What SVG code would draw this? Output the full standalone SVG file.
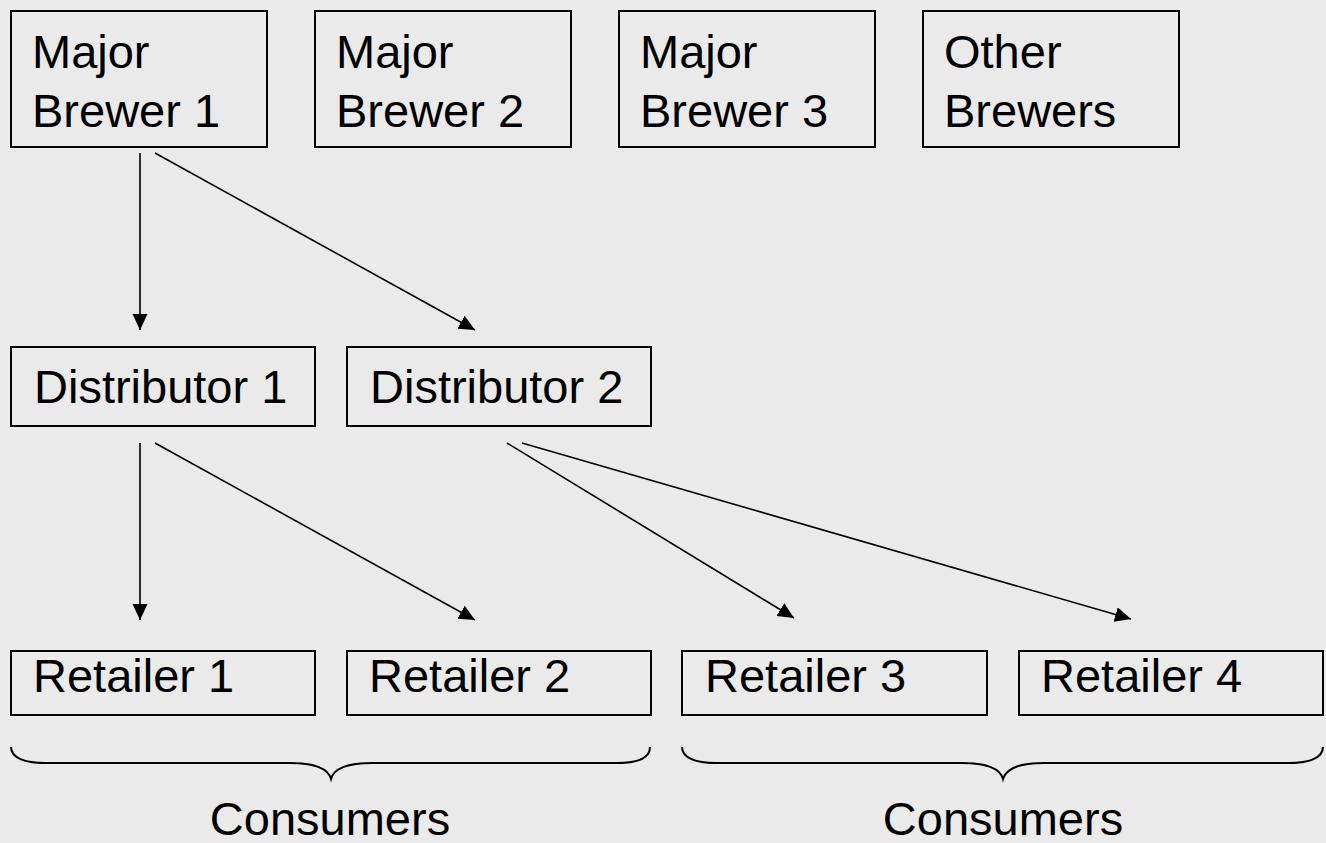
<svg xmlns="http://www.w3.org/2000/svg" width="1326" height="843" viewBox="0 0 1326 843">
<style>
.box{fill:none;stroke:#000;stroke-width:2}
.t{font-family:"Liberation Sans",Arial,sans-serif;font-size:47px;fill:#000}
.c{stroke:#000;stroke-width:1.6;fill:none}
.br{stroke:#000;stroke-width:2;fill:none}
</style>
<defs>
<marker id="ah" markerUnits="userSpaceOnUse" markerWidth="17" markerHeight="16" refX="16" refY="7.5" orient="auto">
<path d="M0,0 L16,7.5 L0,15 z" fill="#000"/>
</marker>
</defs>
<rect width="1326" height="843" fill="#eaeaea"/>
<g id="mb1"><rect class="box" x="11" y="11" width="256" height="136"/><text class="t" x="32" y="68">Major</text><text class="t" x="32" y="127">Brewer 1</text></g>
<g id="mb2"><rect class="box" x="315" y="11" width="256" height="136"/><text class="t" x="336" y="68">Major</text><text class="t" x="336" y="127">Brewer 2</text></g>
<g id="mb3"><rect class="box" x="619" y="11" width="256" height="136"/><text class="t" x="640" y="68">Major</text><text class="t" x="640" y="127">Brewer 3</text></g>
<g id="ob"><rect class="box" x="923" y="11" width="256" height="136"/><text class="t" x="944" y="68">Other</text><text class="t" x="944" y="127">Brewers</text></g>
<g id="d1"><rect class="box" x="11" y="347" width="304" height="79"/><text class="t" x="34" y="403">Distributor 1</text></g>
<g id="d2"><rect class="box" x="347" y="347" width="304" height="79"/><text class="t" x="370" y="403">Distributor 2</text></g>
<g id="r1"><rect class="box" x="11" y="651" width="304" height="64"/><text class="t" x="33" y="692">Retailer 1</text></g>
<g id="r2"><rect class="box" x="347" y="651" width="304" height="64"/><text class="t" x="369" y="692">Retailer 2</text></g>
<g id="r3"><rect class="box" x="682" y="651" width="305" height="64"/><text class="t" x="705" y="692">Retailer 3</text></g>
<g id="r4"><rect class="box" x="1019" y="651" width="304" height="64"/><text class="t" x="1041" y="692">Retailer 4</text></g>
<g id="connectors">
<line class="c" x1="140" y1="153" x2="140" y2="330" marker-end="url(#ah)"/>
<line class="c" x1="155" y1="153" x2="475" y2="330" marker-end="url(#ah)"/>
<line class="c" x1="140" y1="443" x2="140" y2="620" marker-end="url(#ah)"/>
<line class="c" x1="155" y1="443" x2="475" y2="620" marker-end="url(#ah)"/>
<line class="c" x1="507" y1="443" x2="794" y2="618" marker-end="url(#ah)"/>
<line class="c" x1="522" y1="443" x2="1131" y2="619" marker-end="url(#ah)"/>
</g>
<g id="consumers1">
<path class="br" d="M11,747 C11,758 25,763 45,763 L290,763 C315,763 328,768 331,779 C334,768 347,763 372,763 L617,763 C637,763 650,758 650,747"/>
<text class="t" x="330" y="835" text-anchor="middle">Consumers</text>
</g>
<g id="consumers2">
<path class="br" d="M682,747 C682,758 696,763 716,763 L962,763 C987,763 1000,768 1003,779 C1006,768 1019,763 1044,763 L1289,763 C1309,763 1323,758 1323,747"/>
<text class="t" x="1003" y="835" text-anchor="middle">Consumers</text>
</g>
</svg>
